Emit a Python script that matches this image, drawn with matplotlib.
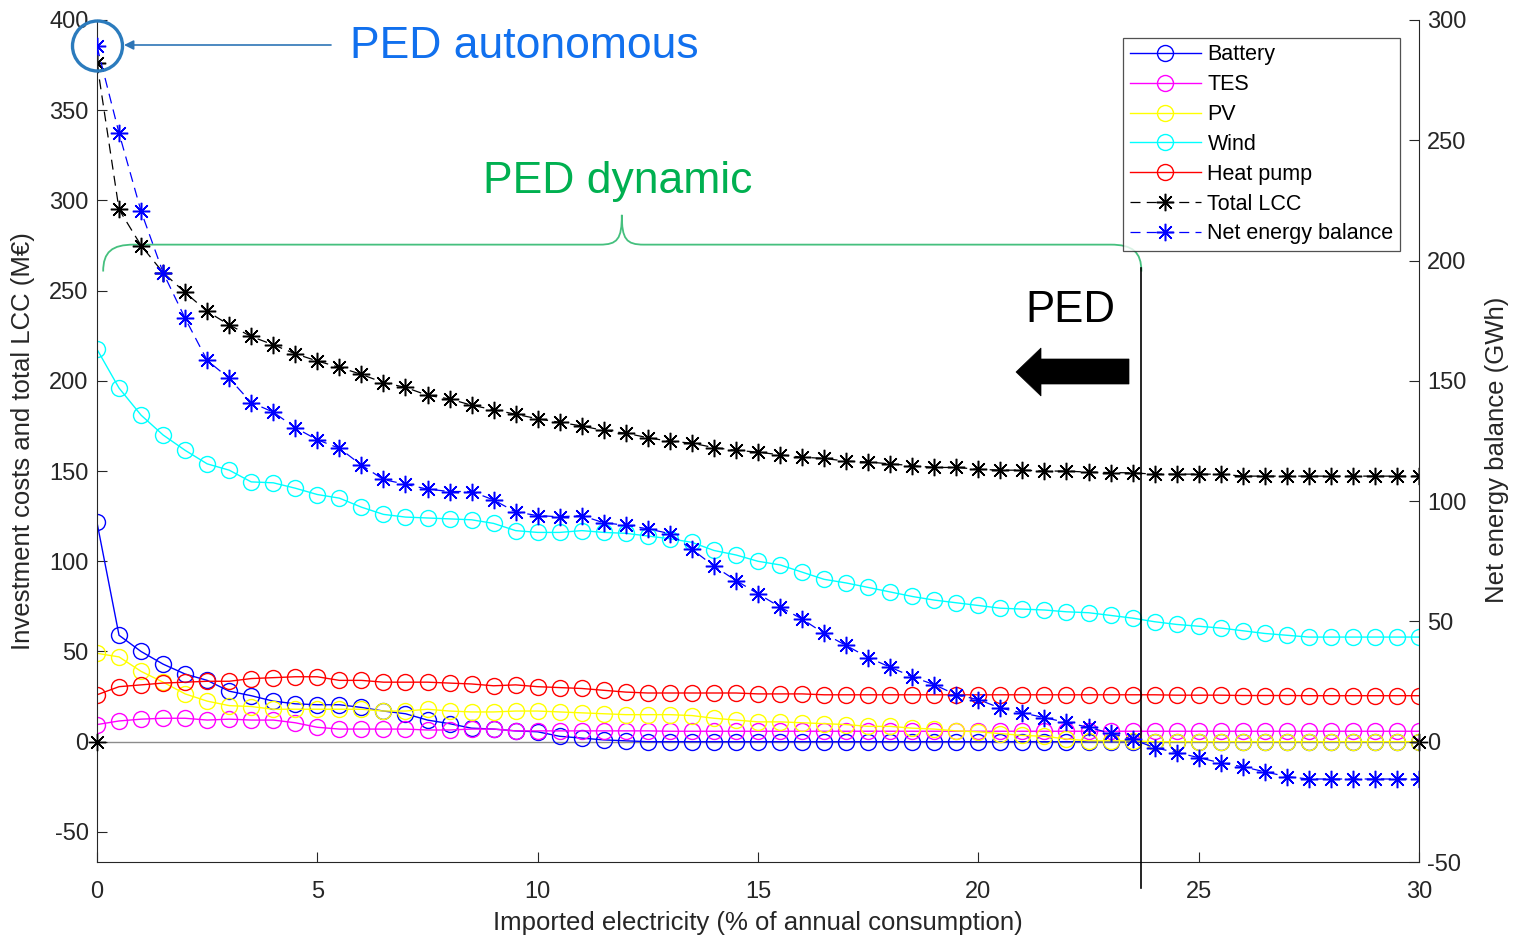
import matplotlib
matplotlib.use("Agg")
import matplotlib.pyplot as plt
from matplotlib.path import Path
from matplotlib.patches import PathPatch, Ellipse, Polygon

plt.rcParams['font.family'] = ['Liberation Sans', 'DejaVu Sans']
plt.rcParams['axes.unicode_minus'] = False

# imported electricity, 0 to 30 % in steps of 0.5
imported = [i * 0.5 for i in range(61)]

battery = [121.5, 59, 50, 43, 37.5, 34, 28, 25.5, 22.5, 21, 20.5, 20.5, 19, 17, 15.5, 12,
           10, 7.5, 7, 6, 5.5, 3, 2, 1, 0.5, 0, 0, 0, 0, 0, 0, 0, 0, 0, 0, 0, 0, 0, 0, 0,
           0, 0, 0, 0, 0, 0, 0, 0, 0, 0, 0, 0, 0, 0, 0, 0, 0, 0, 0, 0, 0]
tes = [9.5, 11.5, 12.5, 13, 13, 12, 12.5, 12, 12, 10.5, 8, 7, 7, 7, 7, 6.5,
       6.5, 7, 7, 6, 6, 6, 6, 6, 6, 6, 5.8, 5.8, 5.8, 5.8, 5.8, 5.8, 5.8, 5.8, 5.8, 5.8,
       5.8, 5.8, 5.8, 5.8, 5.8, 5.8, 5.8, 5.8, 5.8, 5.8, 5.8, 5.8, 5.8, 5.8, 5.8, 5.8,
       5.8, 5.8, 5.8, 5.8, 5.8, 5.8, 5.8, 5.8, 5.8]
pv = [49, 47, 39, 33, 26.5, 22.5, 20, 19.5, 18, 18, 18, 18, 18, 17, 17, 18,
      17, 16.5, 16.5, 17, 17, 16.5, 16, 15.5, 15, 15, 15, 14.5, 13, 12, 11, 11,
      10.5, 10, 9.5, 8.5, 8.5, 7.5, 7, 6, 5.5, 4.5, 3.5, 3, 1.5, 0.5, 0.5, 0.5,
      0, 0, 0, 0, 0, 0, 0, 0, 0, 0, 0, 0, 0]
wind = [217.5, 196, 181, 170, 161.5, 154, 150.5, 144, 143.5, 140.5, 137, 135, 130, 126, 124.5, 124,
        123.5, 123, 121, 117, 116, 116, 117, 116, 115.5, 114, 112.5, 110.5, 106, 103.5, 100, 98,
        94, 90, 88, 85.5, 83, 80.5, 78.5, 77, 75.5, 74, 73.5, 73, 72, 71.5, 70, 68.5,
        66.5, 65, 64, 63, 61.5, 60, 59, 58, 58, 58, 58, 58, 58]
heat_pump = [26, 30.5, 31.5, 32.5, 33, 33.5, 33.5, 35, 35.5, 36, 36, 34, 34, 33, 33, 33,
             32.5, 32, 31, 31.5, 30.5, 30, 29.5, 28.5, 27.5, 27, 27, 27, 27, 27, 26.5, 26.5,
             26.5, 26, 26, 26, 26, 26, 26, 26, 26, 26, 26, 26, 26, 26, 26, 26,
             26, 25.8, 25.8, 25.8, 25.6, 25.6, 25.6, 25.5, 25.5, 25.5, 25.5, 25.5, 25.5]
total_lcc = [376, 295, 275, 260, 249, 238.5, 231, 224.6, 220, 215, 211, 207.5, 203.6, 199, 196.4, 192,
             190, 186.5, 184, 181.5, 179, 177, 175, 172.5, 171, 168.5, 166.5, 165.5, 163, 161.5, 160.5, 159,
             157.7, 157, 155.5, 155, 154, 153, 152, 152, 151, 150.5, 150.5, 150, 150, 149.4, 149.2, 149,
             148.3, 148.3, 148.3, 148.3, 147.2, 147.2, 147.2, 147.2, 147.2, 147.2, 147.2, 147.2, 147.2]
net_energy = [289, 253, 220.5, 195, 176, 158.5, 151, 141, 137, 130.5, 125.5, 122, 115, 109, 107, 105,
              104, 104, 100.5, 95.5, 94, 93.5, 94, 91, 90, 88.5, 86.5, 80, 73, 67, 61.5, 56,
              51, 45, 40, 35, 31, 27, 23.7, 19.5, 17.5, 14, 12, 10, 8, 6, 3.5, 1,
              -2.5, -4.5, -6.6, -8.8, -10.4, -12.5, -14.5, -15.5, -15.5, -15.5, -15.5, -15.5, -15.5]

ped_limit = 23.7
W, H = 1517, 938

def fpx(x, y):
    # figure pixel (from top-left) -> figure fraction
    return x / W, 1 - y / H

fig = plt.figure(figsize=(W / 100, H / 100), dpi=100)
ax = fig.add_axes([97 / W, 76 / H, 1322 / W, 842 / H])
ax2 = ax.twinx()

ast = (8, 2, 0)
dash = (8, 5)
ms_o = 11.5
ms_a = 12.5

ax.axhline(0, color='0.55', lw=1, zorder=1)
ax.plot([0, 30], [0, 0], ls='none', marker=ast, ms=ms_a, mec='k', mew=1, clip_on=False, zorder=3)

h1, = ax.plot(imported, battery, '-', color='#0000ff', marker='o', ms=ms_o, mfc='none', lw=1, label='Battery')
h2, = ax.plot(imported, tes, '-', color='#ff00ff', marker='o', ms=ms_o, mfc='none', lw=1, label='TES')
h3, = ax.plot(imported, pv, '-', color='#ffff00', marker='o', ms=ms_o, mfc='none', lw=1, label='PV')
h4, = ax.plot(imported, wind, '-', color='#00ffff', marker='o', ms=ms_o, mfc='none', lw=1, label='Wind')
h5, = ax.plot(imported, heat_pump, '-', color='#ff0000', marker='o', ms=ms_o, mfc='none', lw=1, label='Heat pump')
h6, = ax.plot(imported, total_lcc, '--', dashes=dash, color='k', marker=ast, ms=ms_a, mew=1.1,
              lw=0.9, label='Total LCC')
h7, = ax2.plot(imported, net_energy, '--', dashes=dash, color='#0000ff', marker=ast, ms=ms_a, mew=1.1,
               lw=0.9, label='Net energy balance')

ax.set_xlim(0, 30)
ax.set_ylim(-200 / 3, 400)
ax2.set_ylim(-50, 300)
ax.set_xticks(range(0, 31, 5))
ax.set_yticks(range(-50, 401, 50))
ax2.set_yticks(range(-50, 301, 50))

for a in (ax, ax2):
    a.spines['top'].set_visible(False)
    a.tick_params(direction='in', length=7, width=0.8, labelsize=17, colors='#262626', pad=6)
ax.tick_params(axis='x', pad=14)
ax.spines['right'].set_visible(False)
ax2.spines['left'].set_visible(False)
ax2.spines['bottom'].set_visible(False)
for s in ('left', 'bottom'):
    ax.spines[s].set_color('#262626')
ax2.spines['right'].set_color('#262626')

ax.set_xlabel('Imported electricity (% of annual consumption)', fontsize=18.5, color='#262626')
ax.set_ylabel('Investment costs and total LCC (M€)', fontsize=18.5, color='#262626')
ax2.set_ylabel('Net energy balance (GWh)', fontsize=18.5, color='#262626')
ax.xaxis.set_label_coords(0.5, -0.058)
ax.yaxis.set_label_coords(-0.047, 0.5)
ax2.yaxis.set_label_coords(1.05, 0.49)

leg = ax2.legend(handles=[h1, h2, h3, h4, h5, h6, h7], loc='upper right',
                 bbox_to_anchor=fpx(1400, 38), bbox_transform=fig.transFigure,
                 fontsize=15.5, frameon=True, fancybox=False, edgecolor='#262626',
                 handlelength=3.3, labelspacing=0.41, borderaxespad=0, borderpad=0.3,
                 handletextpad=0.3)
leg.get_frame().set_linewidth(0.9)

# PED boundary line
ax.plot([ped_limit, ped_limit], [262.8, -81.3], color='k', lw=1.2, clip_on=False, zorder=4)

# curly brace for "PED dynamic"
xl, xr, xm = 0.14, ped_limit, 11.91
yb, yt, ya = 260.6, 275.5, 292
verts = [(xl, yb), (xl, yt - 4), (xl + 0.2, yt), (xl + 0.7, yt),
         (xm - 0.5, yt),
         (xm - 0.1, yt), (xm, yt + 3), (xm, ya),
         (xm, yt + 3), (xm + 0.1, yt), (xm + 0.5, yt),
         (xr - 0.7, yt),
         (xr - 0.2, yt), (xr, yt - 4), (xr, yb)]
codes = [Path.MOVETO, Path.CURVE4, Path.CURVE4, Path.CURVE4,
         Path.LINETO,
         Path.CURVE4, Path.CURVE4, Path.CURVE4,
         Path.CURVE4, Path.CURVE4, Path.CURVE4,
         Path.LINETO,
         Path.CURVE4, Path.CURVE4, Path.CURVE4]
ax.add_patch(PathPatch(Path(verts, codes), fill=False, edgecolor='#45c07e', lw=1.3, clip_on=False))

fig.text(*fpx(618, 182), 'PED dynamic', fontsize=32, color='#00b050', ha='center', va='center')
fig.text(*fpx(1070, 310), 'PED', fontsize=31.5, color='k', ha='center', va='center')
fig.text(*fpx(524, 46), 'PED autonomous', fontsize=32, color='#1170ee', ha='center', va='center')

# circle and arrow for "PED autonomous"
fig.patches.append(Ellipse(fpx(97.5, 46), 50 / W, 50 / H, transform=fig.transFigure,
                           fill=False, edgecolor='#2b7bbd', lw=2.4, zorder=10))
fig.patches[-1].set_figure(fig)
ax.annotate('', xy=fpx(124, 45), xytext=fpx(331, 45), xycoords='figure fraction',
            textcoords='figure fraction',
            arrowprops=dict(arrowstyle='-|>', color='#2e75b6', lw=1.2, mutation_scale=14,
                            shrinkA=0, shrinkB=0))

# black arrow pointing left
arrow_px = [(1129, 359), (1041, 359), (1041, 348), (1016, 372), (1041, 396), (1041, 384), (1129, 384)]
fig.patches.append(Polygon([fpx(x, y) for x, y in arrow_px], closed=True, transform=fig.transFigure,
                           facecolor='k', edgecolor='k', lw=0.5))
fig.patches[-1].set_figure(fig)

fig.savefig('out.png', dpi=100, facecolor='white')
